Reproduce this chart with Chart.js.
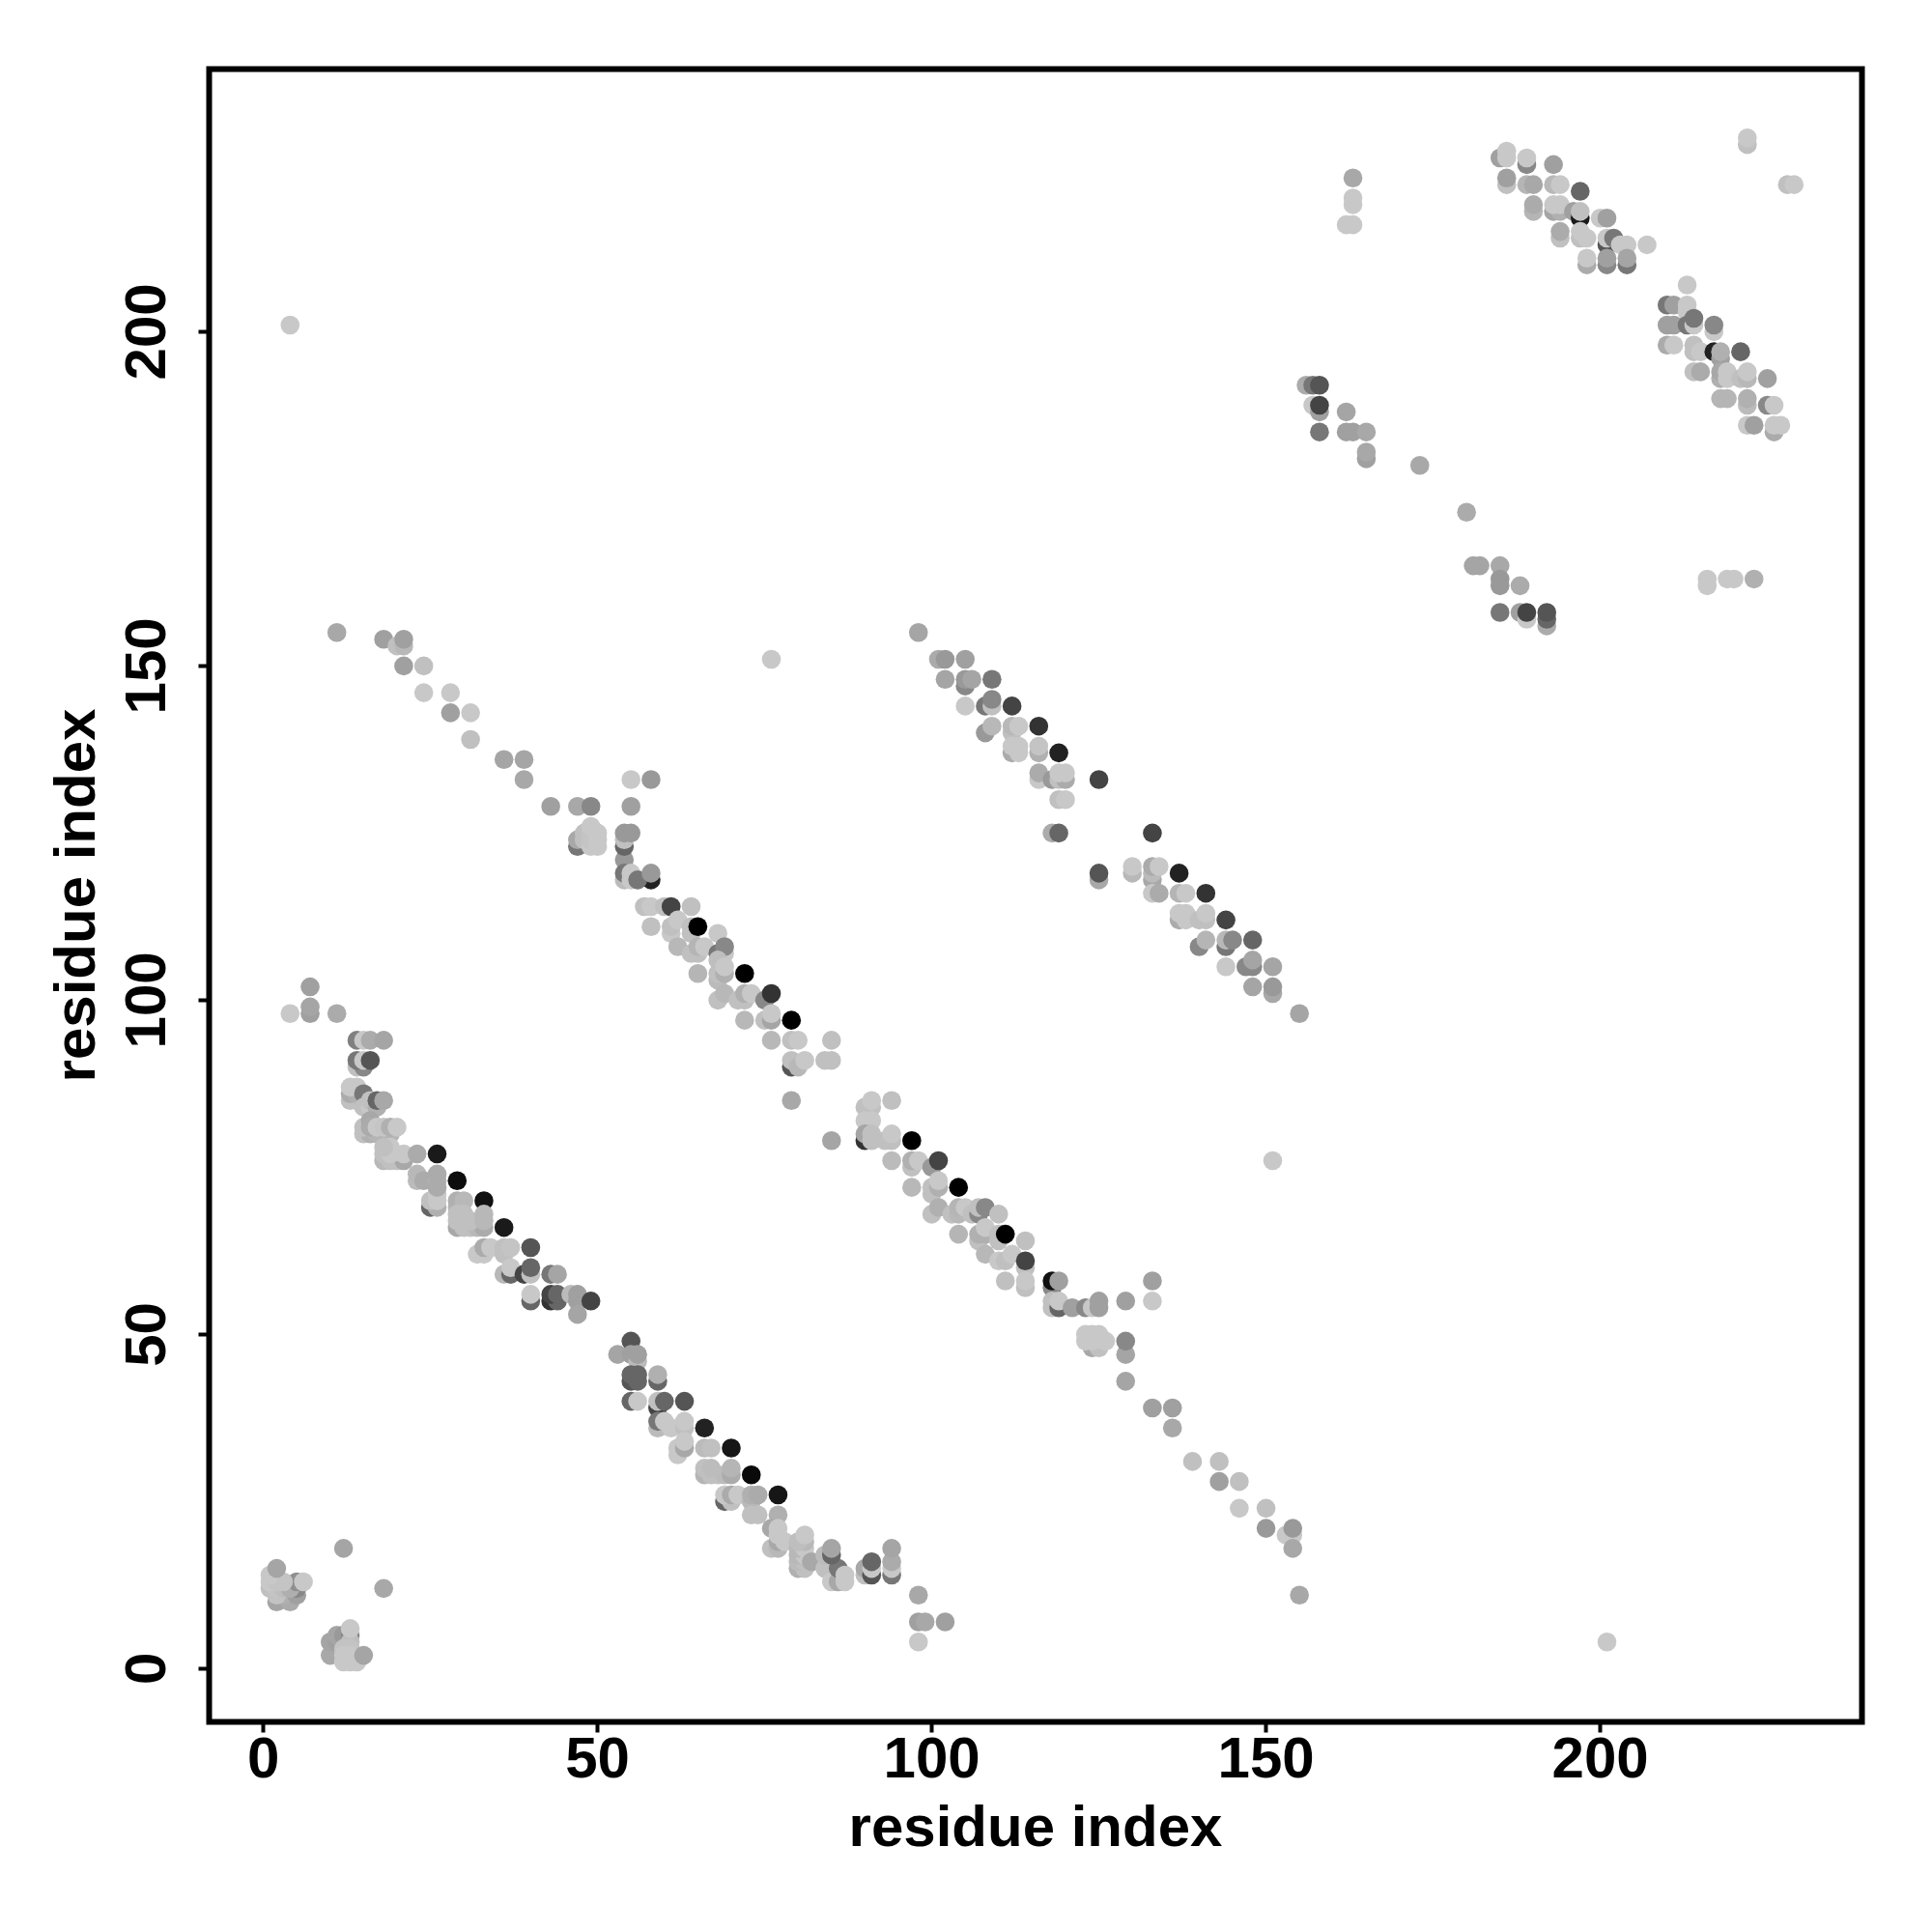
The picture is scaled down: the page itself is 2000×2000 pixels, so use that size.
<!DOCTYPE html>
<html><head><meta charset="utf-8">
<style>html,body{margin:0;padding:0;background:#fff}canvas{display:block}</style>
<script src="https://cdn.jsdelivr.net/npm/chart.js@4/dist/chart.umd.min.js"></script>
</head><body><canvas id="c" width="2000" height="2000"></canvas>
<script>
// each row: [residue x, residue y, grey level]
const cornerA=[[2,10,165],[4,10,171],[3,11,176],[5,11,160],[2,11,195],[5,12,136],[1,12,192],[2,12,196],[3,12,190],[4,12,175],[5,13,143],[1,13,200],[2,13,196],[3,13,196],[1,14,200],[2,15,165],[6,13,200],[12,18,165],[18,12,168]];
const cornerB=[[10,2,168],[10,4,165],[11,4,160],[11,5,165],[12,5,153],[13,5,136],[13,4,190],[12,3,195],[13,3,195],[12,2,200],[13,2,200],[12,1,200],[13,1,200],[14,1,200],[13,6,200],[15,2,165]];
const band1a=[[4,98,200],[7,98,160],[7,99,165],[7,102,160],[11,98,171],[14,94,128],[15,94,200],[16,94,171],[18,94,165],[14,90,192],[15,90,136],[14,91,119],[15,91,200],[16,91,85],[13,85,192],[14,85,192],[13,86,171],[14,86,176],[13,87,200],[14,87,200],[15,86,119],[15,84,192],[16,84,200],[16,85,192],[17,84,176],[17,85,102],[18,85,168]];
const band1b=[[15,80,192],[16,80,176],[17,80,181],[18,80,181],[19,80,181],[15,81,192],[16,82,168],[16,81,171],[17,81,200],[18,81,197],[19,81,176],[20,81,200],[18,76,184],[19,76,192],[20,76,192],[21,76,168],[18,77,192],[19,77,200],[19,78,200],[18,78,192],[21,77,200],[23,77,171],[26,77,26]];
const band1c=[[23,73,187],[23,74,184],[24,73,171],[26,73,176],[26,74,171],[29,73,13],[25,69,102],[26,69,176],[25,70,192],[26,70,200],[26,71,200],[26,72,171],[29,69,181],[29,70,176],[30,70,184],[33,70,17],[29,66,168],[30,66,192],[31,66,192],[32,66,184],[33,66,171],[29,67,192],[30,67,192],[31,67,192],[29,68,192],[30,68,192],[33,67,184],[33,68,184],[36,66,26]];
const band1d=[[32,62,200],[33,62,200],[33,63,171],[34,63,200],[36,62,192],[36,63,192],[37,63,196],[40,63,85],[36,59,184],[37,59,102],[37,60,200],[39,59,68],[40,59,192],[40,60,102],[43,59,119],[44,59,165],[40,55,102],[40,56,200],[43,55,51],[44,55,102],[43,56,68],[44,56,102],[46,56,187],[47,55,160],[47,56,160],[47,53,165],[49,55,68]];
const band1e=[[55,49,85],[53,47,165],[55,47,160],[56,46,187],[56,47,160],[55,43,85],[56,43,102],[55,44,102],[56,44,102],[59,43,102],[59,44,176],[55,40,102],[56,40,200],[59,39,68],[59,40,192],[60,40,102],[63,40,85],[59,36,187],[59,37,119],[60,37,200],[61,36,200],[63,36,192],[63,37,200],[66,36,34]];
const band1f=[[62,32,200],[62,33,200],[63,33,168],[63,34,200],[66,33,187],[67,33,192],[70,33,22],[66,29,181],[67,29,192],[68,29,192],[69,29,187],[66,30,192],[67,30,188],[70,29,171],[70,30,181],[73,29,10],[69,25,102],[70,25,192],[69,26,200],[70,26,171],[71,26,200],[73,25,184],[73,26,176],[74,26,171],[77,26,22]];
const band1g=[[73,23,192],[74,23,192],[77,23,176],[76,21,168],[77,21,200],[76,18,192],[77,18,184],[77,19,168],[78,19,200],[77,20,200],[80,15,176],[81,15,192],[80,16,187],[81,16,192],[80,17,184],[81,17,200],[80,18,184],[81,18,200],[81,19,184],[80,19,190],[81,20,200],[82,16,168]];
const band1h=[[84,15,192],[84,17,187],[85,13,200],[86,13,168],[86,15,119],[85,17,102],[85,18,165],[87,13,200],[87,14,200],[90,14,192],[90,15,168],[91,14,85],[91,15,200],[91,16,102],[94,14,119],[94,15,200],[94,16,171],[94,18,165],[98,11,168],[98,7,160],[99,7,168],[102,7,160],[98,4,200]];
const band2a=[[11,155,168],[18,154,160],[20,153,192],[21,153,184],[21,154,160],[21,150,160],[24,150,192],[24,146,200],[28,146,200],[28,143,160],[31,143,200],[31,139,192],[36,136,165],[39,136,165],[39,133,168],[43,129,160],[47,129,168],[49,129,136]];
const band2b=[[47,123,119],[47,124,168],[48,124,192],[48,125,192],[49,123,200],[49,124,196],[49,125,196],[49,126,200],[50,123,200],[50,124,200],[50,125,200],[54,121,153],[54,123,102],[54,124,192],[54,125,153],[55,125,153],[55,129,160],[55,133,200],[58,133,153]];
const band2c=[[54,118,187],[54,119,119],[55,118,200],[55,119,200],[58,118,34],[56,118,119],[58,119,153],[57,114,192],[58,114,200],[60,114,192],[61,114,68],[64,114,192],[58,111,192],[61,110,200],[61,111,192],[62,112,200],[64,110,192],[64,111,192],[65,111,0],[68,110,200],[62,108,184],[64,107,192],[65,107,192],[65,108,181],[66,108,200],[68,107,119],[69,107,200],[69,108,136]];
const band2d=[[65,104,181],[68,103,187],[68,104,192],[68,106,190],[69,104,176],[69,105,200],[72,104,0],[68,100,192],[69,101,184],[71,100,192],[72,100,192],[72,101,176],[73,101,200],[75,100,136],[76,101,51],[72,97,184],[75,97,192],[76,97,165],[76,98,200],[79,97,0],[76,94,184],[79,94,192],[80,94,200],[85,94,192],[79,90,85],[79,91,192],[80,90,184],[81,91,200],[84,91,192],[85,91,192],[79,85,168],[85,79,165]];
const band2e=[[90,84,192],[91,84,192],[91,85,200],[94,85,192],[90,82,200],[91,82,200],[90,79,51],[90,80,165],[91,79,192],[91,80,192],[93,79,192],[94,79,192],[94,80,200],[97,79,0],[94,76,187],[97,75,192],[97,76,176],[98,76,200],[100,75,153],[101,76,68],[97,72,184],[100,71,192],[100,72,192],[101,72,176],[101,73,200],[104,72,0]];
const band2f=[[100,68,192],[101,69,176],[103,68,192],[104,68,184],[104,69,181],[105,69,200],[106,68,192],[107,68,136],[107,69,192],[108,69,136],[110,68,192],[104,65,181],[107,64,192],[107,65,176],[108,65,176],[108,66,200],[110,64,192],[110,65,192],[111,65,0],[114,64,192],[108,62,184],[110,61,200],[111,61,192],[112,62,200],[114,60,192],[114,61,68],[111,58,192],[114,57,192],[114,58,200]];
const band2g=[[118,57,136],[118,58,17],[119,58,160],[118,54,192],[118,55,192],[119,54,102],[119,55,200],[121,54,160],[123,54,136],[124,54,200],[125,54,160],[125,55,160],[129,55,160],[133,55,200],[133,58,160],[124,48,168],[125,48,192],[123,49,200],[124,49,200],[123,50,200],[124,50,200],[125,50,200],[126,49,200],[129,47,165],[129,49,136],[129,43,165]];
const band2h=[[133,39,160],[136,39,160],[136,36,168],[139,31,192],[143,31,192],[143,28,160],[146,28,192],[146,24,200],[150,24,192],[150,21,153],[153,20,200],[154,20,200],[154,21,153],[154,18,168],[155,11,168]];
const outliers=[[4,201,200],[76,151,200],[151,76,200],[201,4,200],[163,223,168],[163,219,200],[163,220,200],[162,216,200],[163,216,200],[216,162,200],[216,163,200],[219,163,200],[220,163,200],[223,163,176],[222,228,192],[222,229,200],[228,222,192],[229,222,200]];
const band3a=[[98,155,165],[101,151,171],[102,151,153],[105,151,160],[102,148,165],[105,147,136],[105,148,153],[106,148,165],[109,148,119],[105,144,200],[108,144,119],[109,144,192],[109,145,136],[112,144,68],[108,140,153],[109,141,184],[112,140,192],[112,141,184],[113,141,200],[116,141,51]];
const band3b=[[112,137,171],[112,138,200],[113,137,200],[113,138,200],[116,137,176],[116,138,196],[119,137,34],[116,133,200],[116,134,171],[118,133,153],[119,133,192],[120,133,171],[119,134,200],[120,134,200],[125,133,68],[119,130,192],[120,130,200],[118,125,171],[119,125,102],[133,125,68],[125,118,168],[125,119,85]];
const band3c=[[130,119,184],[130,120,200],[133,118,168],[133,119,187],[133,120,171],[134,120,200],[137,119,34],[133,116,200],[134,116,171],[137,116,181],[138,116,200],[141,116,51],[137,112,171],[137,113,200],[138,112,200],[138,113,200],[140,112,192],[141,112,192],[141,113,200],[144,112,68],[140,108,136],[141,109,181],[144,108,119],[144,109,184],[145,109,136],[148,109,102],[144,105,200],[147,105,136],[148,105,136],[148,106,165],[151,105,165],[148,102,165],[151,101,168],[151,102,153],[155,98,165]];
const band4a=[[156,192,171],[157,192,119],[158,192,85],[157,189,200],[158,188,160],[158,189,68],[162,188,165],[158,185,119],[162,185,160],[163,185,160],[165,185,168],[165,181,160],[165,182,168],[173,180,168],[180,173,171],[181,165,165],[182,165,165],[185,165,168],[185,162,153],[185,163,153],[188,162,171],[185,158,119],[188,158,160],[189,157,200],[189,158,68],[192,156,171],[192,157,102],[192,158,85]];
const band5a=[[185,226,160],[186,226,200],[186,227,200],[189,225,136],[189,226,200],[193,225,160],[186,222,192],[186,223,160],[189,222,181],[190,222,168],[193,222,184],[194,222,200],[197,221,102],[190,218,181],[190,219,171],[193,218,165],[194,218,176],[193,219,200],[194,219,200],[196,218,160],[197,217,26],[197,218,192]];
const band5b=[[194,214,192],[194,215,171],[197,214,192],[197,215,200],[198,214,200],[200,217,200],[201,217,160],[201,213,85],[201,214,200],[202,214,119],[203,213,200],[204,213,200],[207,213,200],[198,210,171],[198,211,200],[201,210,136],[201,211,160],[204,210,119],[204,211,165]];
const band5c=[[213,207,200],[210,204,119],[211,204,160],[213,204,200],[213,203,200],[210,201,160],[211,201,160],[213,201,119],[214,201,200],[214,202,119],[217,200,200],[217,201,136],[210,198,171],[211,198,200],[214,197,192],[214,198,192],[215,197,200],[217,197,34],[218,196,160],[218,197,176],[221,197,102]];
const band5d=[[214,194,192],[215,194,171],[218,193,176],[218,194,168],[219,193,200],[219,194,200],[221,193,192],[222,193,184],[222,194,200],[225,193,160],[218,190,181],[219,190,181],[222,189,187],[222,190,176],[225,189,136],[226,189,200],[222,186,200],[223,186,160],[226,185,171],[226,186,200],[227,186,200]];

const tickValues=[0,50,100,150,200];
const axisTitle="residue index";

const rows=[...cornerA,...cornerB,...band1a,...band1b,...band1c,...band1d,...band1e,...band1f,...band1g,...band1h,
 ...band2a,...band2b,...band2c,...band2d,...band2e,...band2f,...band2g,...band2h,...outliers,
 ...band3a,...band3b,...band3c,...band4a,...band5a,...band5b,...band5c,...band5d];
const FONT="'Liberation Sans',Arial,sans-serif";
const boxPlugin={id:'box',afterDraw(ch){const a=ch.chartArea,c=ch.ctx;c.save();c.strokeStyle='#000';c.lineWidth=6;c.strokeRect(a.left,a.top,a.right-a.left,a.bottom-a.top);c.restore();}};
const useTicks=s=>{s.ticks=tickValues.map(v=>({value:v}));};
const tickFont={family:FONT,size:60,weight:'bold'};
new Chart(document.getElementById('c'),{
 type:'scatter',
 data:{datasets:[{data:rows.map(r=>({x:r[0],y:r[1]})),
   backgroundColor:rows.map(r=>`rgb(${r[2]},${r[2]},${r[2]})`),
   borderWidth:0,pointRadius:9.8,pointHoverRadius:9.8}]},
 options:{responsive:false,animation:false,devicePixelRatio:1,
  layout:{padding:{left:0,top:71.5,right:72.5,bottom:0}},
  plugins:{legend:{display:false},tooltip:{enabled:false}},
  scales:{
   x:{type:'linear',min:-8.107,max:239.15,afterBuildTicks:useTicks,
      afterFit(s){s.height=217.5;},
      border:{display:false},
      grid:{drawOnChartArea:false,drawTicks:true,tickLength:11,tickWidth:4,color:'#000'},
      ticks:{color:'#000',font:tickFont,padding:-6,maxRotation:0,autoSkip:false},
      title:{display:true,text:axisTitle,color:'#000',font:{family:FONT,size:60,weight:'bold'},padding:{top:0,bottom:70}}},
   y:{type:'linear',min:-7.96,max:239.29,afterBuildTicks:useTicks,
      afterFit(s){s.width=216.5;},
      border:{display:false},
      grid:{drawOnChartArea:false,drawTicks:true,tickLength:11,tickWidth:4,color:'#000'},
      ticks:{color:'#000',font:tickFont,padding:1,minRotation:90,maxRotation:90,crossAlign:'center',autoSkip:false},
      title:{display:true,text:axisTitle,color:'#000',font:{family:FONT,size:60,weight:'bold'},padding:{top:45,bottom:0}}}
  }},
 plugins:[boxPlugin]});
</script></body></html>
